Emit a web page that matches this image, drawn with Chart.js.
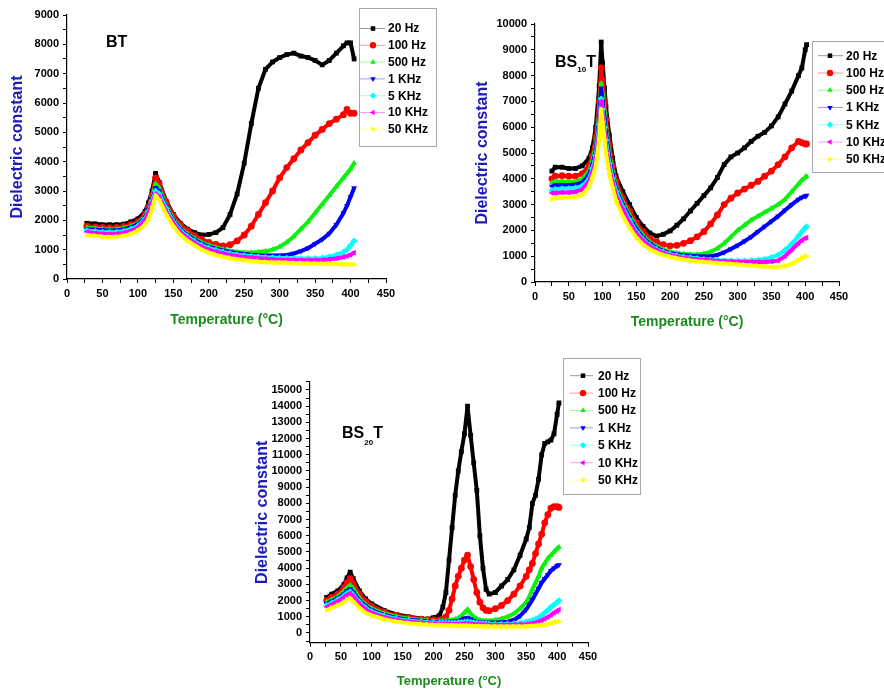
<!DOCTYPE html>
<html>
<head>
<meta charset="utf-8">
<title>Dielectric constant vs temperature</title>
<script src="https://cdn.jsdelivr.net/npm/chart.js@4.4.0/dist/chart.umd.min.js"></script>
<style>
  body { margin: 0; background: #fff; }
  #wrap { position: relative; width: 884px; height: 692px; overflow: hidden; }
  canvas { position: absolute; }
</style>
</head>
<body>
<div id="wrap">
  <canvas id="chartBT" width="440" height="340" style="left:0;top:0"></canvas>
  <canvas id="chartBS10" width="444" height="340" style="left:440px;top:0"></canvas>
  <canvas id="chartBS20" width="420" height="342" style="left:230px;top:350px"></canvas>
</div>
<script>
// Legend labels (same seven frequencies in every panel)
const freqLabels = ['20 Hz', '100 Hz', '500 Hz', '1 KHz', '5 KHz', '10 KHz', '50 KHz'];

// ---- BT ----
const tempBT = [28, 40, 50, 60, 70, 80, 90, 100, 110, 115, 120, 125, 130, 140, 150, 160, 170, 180, 190, 200, 210, 220, 230, 240, 250, 260, 270, 280, 290, 300, 310, 320, 330, 340, 350, 360, 370, 380, 390, 395, 400, 405];
const bt20Hz = [1900, 1880, 1850, 1850, 1850, 1870, 1950, 2050, 2300, 2600, 3000, 3600, 3300, 2650, 2200, 1900, 1700, 1580, 1500, 1520, 1580, 1750, 2200, 2900, 3950, 5300, 6500, 7150, 7400, 7550, 7650, 7700, 7600, 7550, 7450, 7300, 7450, 7700, 7950, 8050, 8050, 7500];
const bt100Hz = [1800, 1780, 1760, 1750, 1760, 1790, 1850, 1950, 2200, 2450, 2850, 3450, 3250, 2600, 2150, 1850, 1650, 1480, 1350, 1250, 1180, 1130, 1170, 1300, 1500, 1800, 2200, 2600, 3000, 3450, 3800, 4100, 4400, 4650, 4900, 5100, 5300, 5450, 5600, 5780, 5650, 5650];
const bt500Hz = [1750, 1720, 1700, 1690, 1700, 1730, 1800, 1900, 2150, 2400, 2750, 3250, 3100, 2500, 2050, 1750, 1550, 1380, 1250, 1150, 1080, 1010, 960, 920, 900, 900, 920, 950, 1000, 1100, 1250, 1450, 1700, 1950, 2250, 2550, 2850, 3150, 3450, 3600, 3750, 3950];
const bt1kHz = [1700, 1680, 1660, 1650, 1660, 1690, 1760, 1860, 2100, 2350, 2700, 3100, 3000, 2450, 2000, 1700, 1500, 1330, 1200, 1100, 1030, 970, 920, 880, 850, 830, 810, 800, 800, 800, 820, 870, 950, 1050, 1200, 1350, 1550, 1850, 2250, 2500, 2800, 3100];
const bt5kHz = [1650, 1620, 1600, 1590, 1600, 1630, 1700, 1800, 2050, 2300, 2650, 3000, 2900, 2400, 1950, 1650, 1450, 1280, 1150, 1050, 980, 920, 870, 830, 800, 780, 760, 740, 730, 720, 710, 705, 700, 700, 700, 720, 760, 820, 920, 1000, 1150, 1300];
const bt10kHz = [1600, 1560, 1540, 1530, 1540, 1570, 1640, 1750, 2000, 2250, 2600, 2900, 2800, 2300, 1900, 1600, 1400, 1230, 1100, 1000, 930, 870, 820, 780, 750, 730, 710, 690, 670, 660, 650, 645, 640, 640, 640, 650, 670, 700, 750, 780, 830, 900];
const bt50kHz = [1500, 1470, 1440, 1430, 1440, 1470, 1540, 1650, 1850, 2050, 2400, 2850, 2700, 2200, 1800, 1500, 1300, 1150, 1000, 900, 820, 760, 710, 670, 640, 610, 590, 575, 565, 560, 550, 540, 535, 530, 525, 520, 515, 510, 505, 500, 500, 500];

// ---- BS10T ----
const tempBS10 = [25, 30, 40, 50, 60, 70, 80, 85, 90, 95, 98, 100, 103, 105, 110, 115, 120, 130, 140, 150, 160, 170, 180, 190, 200, 210, 220, 230, 240, 250, 260, 270, 280, 290, 300, 310, 320, 330, 340, 350, 360, 370, 380, 390, 395, 400, 402];
const bs10_20Hz = [4300, 4450, 4450, 4400, 4400, 4500, 4800, 5200, 6000, 7600, 9300, 8500, 7500, 6800, 5700, 4800, 4100, 3500, 3000, 2500, 2150, 1900, 1780, 1850, 1980, 2200, 2450, 2750, 3050, 3350, 3650, 4050, 4550, 4850, 5000, 5200, 5450, 5650, 5800, 6050, 6400, 6900, 7400, 8000, 8300, 9000, 9200];
const bs10_100Hz = [4000, 4100, 4120, 4100, 4100, 4200, 4500, 4900, 5600, 7000, 8300, 7800, 7000, 6300, 5300, 4500, 3900, 3250, 2750, 2300, 1950, 1700, 1550, 1450, 1400, 1420, 1500, 1600, 1750, 1950, 2250, 2600, 3000, 3250, 3450, 3600, 3750, 3900, 4100, 4300, 4550, 4850, 5200, 5450, 5400, 5350, 5350];
const bs10_500Hz = [3850, 3900, 3900, 3880, 3900, 4000, 4300, 4700, 5300, 6600, 7700, 7300, 6600, 6000, 5000, 4300, 3700, 3100, 2600, 2150, 1800, 1550, 1380, 1260, 1170, 1120, 1090, 1070, 1070, 1100, 1170, 1300, 1500, 1750, 2000, 2200, 2400, 2550, 2700, 2850, 3000, 3200, 3500, 3800, 3950, 4050, 4100];
const bs10_1kHz = [3700, 3750, 3750, 3750, 3780, 3850, 4150, 4550, 5100, 6400, 7500, 7000, 6300, 5800, 4800, 4150, 3600, 3000, 2500, 2050, 1720, 1480, 1320, 1200, 1120, 1070, 1040, 1020, 1000, 990, 1000, 1050, 1150, 1280, 1420, 1580, 1750, 1950, 2150, 2350, 2550, 2780, 3000, 3200, 3280, 3330, 3350];
const bs10_5kHz = [3550, 3600, 3620, 3620, 3650, 3720, 4000, 4400, 4900, 6100, 7100, 6700, 6000, 5500, 4600, 4000, 3500, 2900, 2400, 1950, 1650, 1420, 1270, 1160, 1080, 1020, 970, 940, 910, 880, 860, 840, 830, 820, 820, 820, 830, 850, 880, 950, 1050, 1230, 1480, 1780, 1950, 2100, 2150];
const bs10_10kHz = [3450, 3450, 3470, 3470, 3500, 3580, 3900, 4250, 4750, 5800, 7000, 6500, 5800, 5300, 4400, 3850, 3350, 2800, 2300, 1880, 1600, 1380, 1230, 1120, 1040, 980, 930, 900, 870, 850, 830, 810, 800, 790, 780, 775, 775, 775, 780, 790, 830, 1000, 1250, 1500, 1620, 1700, 1720];
const bs10_50kHz = [3200, 3250, 3270, 3280, 3300, 3380, 3700, 4050, 4500, 5500, 6700, 6200, 5500, 5000, 4200, 3650, 3150, 2550, 2100, 1720, 1450, 1270, 1140, 1050, 980, 920, 870, 830, 800, 780, 760, 740, 720, 700, 680, 660, 640, 620, 600, 580, 590, 620, 700, 850, 930, 1000, 1000];

// ---- BS20T ----
const tempBS20 = [27, 35, 45, 55, 60, 65, 70, 80, 90, 100, 120, 140, 160, 180, 190, 200, 210, 215, 220, 225, 230, 235, 240, 245, 250, 255, 260, 265, 270, 275, 280, 285, 290, 300, 310, 320, 330, 340, 350, 355, 360, 365, 370, 375, 380, 385, 390, 395, 400, 403];
const bs20_20Hz = [2200, 2400, 2600, 3000, 3400, 3750, 3350, 2600, 2100, 1800, 1400, 1150, 1000, 900, 850, 950, 1100, 1600, 2500, 4500, 6500, 8500, 10000, 11200, 12300, 14000, 12200, 10500, 8800, 6000, 4000, 2700, 2400, 2500, 2900, 3300, 3900, 4800, 5800, 6500, 8000, 8500, 9500, 11000, 11700, 11800, 11900, 12300, 13500, 14200];
const bs20_100Hz = [2000, 2200, 2400, 2800, 3100, 3350, 3050, 2400, 1950, 1650, 1300, 1080, 950, 860, 820, 800, 800, 850, 1000, 1400, 2100, 2900, 3500, 4000, 4500, 4800, 4100, 3300, 2500, 1900, 1550, 1400, 1380, 1500, 1700, 2000, 2400, 2900, 3500, 3900, 4300, 4900, 5500, 6100, 6800, 7300, 7700, 7800, 7800, 7750];
const bs20_500Hz = [1900, 2050, 2250, 2600, 2800, 2950, 2750, 2150, 1750, 1500, 1200, 1000, 880, 800, 770, 750, 740, 740, 750, 770, 800, 850, 920, 1050, 1250, 1450, 1200, 1000, 880, 800, 760, 750, 750, 800, 880, 1000, 1200, 1500, 1900, 2250, 2700, 3100, 3500, 4000, 4300, 4600, 4800, 5000, 5200, 5300];
const bs20_1kHz = [1800, 1950, 2150, 2400, 2600, 2700, 2500, 2000, 1650, 1400, 1120, 930, 820, 750, 720, 700, 690, 690, 690, 700, 710, 730, 760, 820, 900, 950, 850, 760, 700, 670, 650, 640, 640, 640, 660, 700, 800, 1050, 1450, 1750, 2050, 2400, 2750, 3100, 3350, 3600, 3850, 4000, 4150, 4200];
const bs20_5kHz = [1700, 1850, 2050, 2300, 2450, 2550, 2350, 1900, 1550, 1320, 1050, 870, 760, 690, 660, 640, 630, 620, 620, 620, 620, 630, 640, 660, 680, 700, 670, 640, 610, 590, 580, 570, 560, 550, 550, 560, 580, 620, 680, 720, 780, 860, 950, 1080, 1250, 1400, 1600, 1750, 1900, 2000];
const bs20_10kHz = [1600, 1750, 1950, 2200, 2350, 2450, 2250, 1800, 1450, 1230, 980, 810, 700, 630, 600, 580, 570, 560, 560, 550, 550, 550, 550, 560, 570, 580, 560, 540, 530, 520, 510, 505, 500, 500, 500, 505, 510, 520, 540, 560, 590, 630, 700, 780, 880, 980, 1100, 1250, 1350, 1450];
const bs20_50kHz = [1400, 1550, 1700, 1900, 2050, 2150, 1950, 1550, 1250, 1080, 850, 700, 600, 540, 520, 500, 490, 480, 470, 465, 460, 455, 450, 450, 450, 450, 440, 430, 420, 415, 410, 405, 400, 400, 400, 400, 400, 400, 410, 420, 430, 440, 460, 480, 500, 540, 600, 650, 700, 700];

// Series styling (Origin-like default markers)
const seriesColors = ['#000000', '#ff0000', '#11ee11', '#0000ff', '#00ffff', '#ff00ff', '#ffff00'];
const markerStyles = ['rect', 'circle', 'triangle', 'triangle', 'rectRot', 'triangle', 'triangle'];
const markerRotation = [0, 0, 0, 180, 0, 270, 90];

const fontFamily = '"Liberation Sans", Arial, sans-serif';

function makeDatasets(temps, seriesList) {
    return seriesList.map(function(values, i) {
        return {
            label: freqLabels[i],
            data: temps.map(function(t, k) { return { x: t, y: values[k] }; }),
            borderColor: seriesColors[i],
            backgroundColor: seriesColors[i],
            borderWidth: 4,
            borderJoinStyle: 'round',
            pointStyle: markerStyles[i],
            pointRotation: markerRotation[i],
            pointRadius: 3.4,
            pointBorderWidth: 0,
            tension: 0,
            order: 6 - i
        };
    });
}

// Regular ticks (major + minor) from a start value up to the axis max
function stepTicks(start, step) {
    return function(scale) {
        const list = [];
        for (let v = start; v <= scale.max + 1e-6; v += step) list.push({ value: v });
        scale.ticks = list;
    };
}

// Draws the sample name and the boxed legend on top of the plot
function panelDecor(opt) {
    return {
        id: 'panelDecor',
        afterDraw: function(chart) {
            const ctx = chart.ctx;
            ctx.save();

            // sample name, e.g. BS10T with subscript
            let x = opt.name.x;
            ctx.fillStyle = '#000';
            ctx.textAlign = 'left';
            ctx.textBaseline = 'alphabetic';
            opt.name.parts.forEach(function(p) {
                ctx.font = 'bold ' + p.size + 'px ' + fontFamily;
                ctx.fillText(p.text, x, opt.name.y + (p.dy || 0));
                x += ctx.measureText(p.text).width;
            });

            // legend box
            const lg = opt.legend;
            ctx.fillStyle = '#fff';
            ctx.fillRect(lg.x, lg.y, lg.w, lg.h);
            ctx.strokeStyle = '#a8a8a8';
            ctx.lineWidth = 1;
            ctx.strokeRect(lg.x + 0.5, lg.y + 0.5, lg.w, lg.h);

            chart.data.datasets.forEach(function(ds, i) {
                const y = lg.rowY + i * lg.rowStep;
                ctx.globalAlpha = 0.4;
                ctx.strokeStyle = ds.borderColor;
                ctx.lineWidth = 1;
                ctx.beginPath();
                ctx.moveTo(lg.lineX0, y);
                ctx.lineTo(lg.lineX1, y);
                ctx.stroke();
                ctx.globalAlpha = 1;
                ctx.fillStyle = ds.borderColor;
                Chart.helpers.drawPoint(ctx, {
                    pointStyle: ds.pointStyle,
                    rotation: ds.pointRotation,
                    radius: 3.2,
                    borderWidth: 0
                }, lg.markX, y);
                ctx.fillStyle = '#000';
                ctx.font = 'bold 12px ' + fontFamily;
                ctx.textBaseline = 'middle';
                ctx.fillText(ds.label, lg.textX, y + 0.5);
            });
            ctx.restore();
        }
    };
}

function buildPanel(canvasId, temps, seriesList, cfg) {
    const tickFont = { family: fontFamily, size: 11, weight: 'bold' };
    return new Chart(document.getElementById(canvasId), {
        type: 'line',
        data: { datasets: makeDatasets(temps, seriesList) },
        options: {
            responsive: false,
            animation: false,
            layout: { padding: cfg.padding },
            plugins: {
                legend: { display: false },
                tooltip: { enabled: false }
            },
            scales: {
                x: {
                    type: 'linear',
                    min: 0,
                    max: 450,
                    afterBuildTicks: stepTicks(0, 25),
                    ticks: {
                        autoSkip: false,
                        maxRotation: 0,
                        color: '#000',
                        font: tickFont,
                        padding: 4,
                        callback: function(v) { return v % 50 === 0 ? v : ''; }
                    },
                    grid: { drawOnChartArea: false, tickLength: 4, color: '#000' },
                    border: { color: '#000', width: 1.2 },
                    title: {
                        display: true,
                        text: 'Temperature (°C)',
                        color: '#1b8c1b',
                        font: { family: fontFamily, size: cfg.xTitleSize, weight: 'bold' },
                        padding: 0
                    },
                    afterFit: function(scale) { scale.height = cfg.xHeight; }
                },
                y: {
                    type: 'linear',
                    min: cfg.yMin,
                    max: cfg.yMax,
                    afterBuildTicks: stepTicks(cfg.yTickStart, 500),
                    ticks: {
                        autoSkip: false,
                        color: '#000',
                        font: tickFont,
                        padding: 4,
                        callback: function(v) { return (v % 1000 === 0 && v >= 0) ? v : ''; }
                    },
                    grid: { drawOnChartArea: false, tickLength: 4, color: '#000' },
                    border: { color: '#000', width: 1.2 },
                    title: {
                        display: true,
                        text: 'Dielectric constant',
                        color: '#1c1cb8',
                        font: { family: fontFamily, size: 16, weight: 'bold' },
                        padding: 0
                    },
                    afterFit: function(scale) { scale.width = cfg.yWidth; }
                }
            }
        },
        plugins: [panelDecor(cfg)]
    });
}

document.addEventListener('DOMContentLoaded', function() {
    buildPanel('chartBT', tempBT,
        [bt20Hz, bt100Hz, bt500Hz, bt1kHz, bt5kHz, bt10kHz, bt50kHz], {
        padding: { left: 8.4, right: 54, top: 15, bottom: 11.6 },
        yWidth: 58.6, xHeight: 49.4, xTitleSize: 14,
        yMin: 0, yMax: 9000, yTickStart: 0,
        name: { x: 106, y: 46.7, parts: [{ text: 'BT', size: 16 }] },
        legend: { x: 359, y: 8, w: 77, h: 138, rowY: 28.5, rowStep: 16.8, lineX0: 360, lineX1: 385, markX: 373, textX: 388 }
    });

    buildPanel('chartBS10', tempBS10,
        [bs10_20Hz, bs10_100Hz, bs10_500Hz, bs10_1kHz, bs10_5kHz, bs10_10kHz, bs10_50kHz], {
        padding: { left: 33.4, right: 45, top: 24, bottom: 9.6 },
        yWidth: 61.6, xHeight: 48.4, xTitleSize: 14,
        yMin: 0, yMax: 10000, yTickStart: 0,
        name: { x: 115, y: 66.7, parts: [{ text: 'BS', size: 16 }, { text: '10', size: 8, dy: 5 }, { text: 'T', size: 16 }] },
        legend: { x: 372, y: 41, w: 90, h: 131, rowY: 55.7, rowStep: 17.27, lineX0: 378, lineX1: 403, markX: 390, textX: 406 }
    });

    buildPanel('chartBS20', tempBS20,
        [bs20_20Hz, bs20_100Hz, bs20_500Hz, bs20_1kHz, bs20_5kHz, bs20_10kHz, bs20_50kHz], {
        padding: { left: 23.4, right: 62, top: 31.9, bottom: 2.5 },
        yWidth: 56.6, xHeight: 46.8, xTitleSize: 13,
        yMin: -600, yMax: 15500, yTickStart: -500,
        name: { x: 112, y: 88, parts: [{ text: 'BS', size: 16 }, { text: '20', size: 8, dy: 6.5 }, { text: 'T', size: 16 }] },
        legend: { x: 333, y: 8, w: 77, h: 136, rowY: 25.7, rowStep: 17.4, lineX0: 340, lineX1: 363, markX: 353, textX: 368 }
    });
});
</script>
</body>
</html>
